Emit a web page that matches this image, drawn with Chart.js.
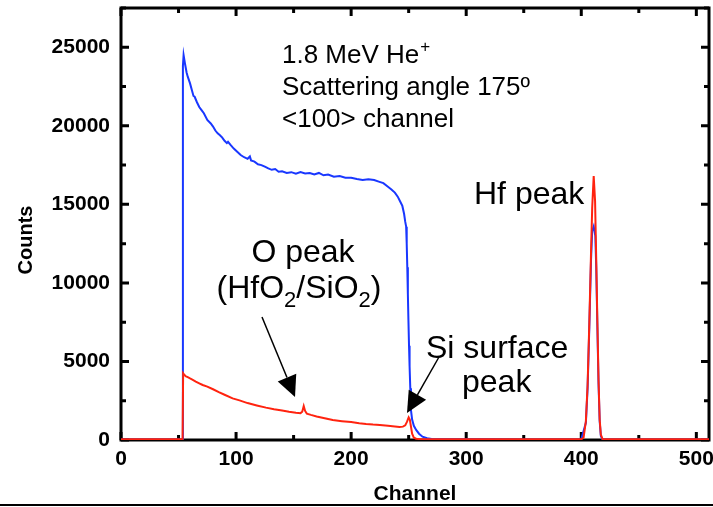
<!DOCTYPE html>
<html>
<head>
<meta charset="utf-8">
<script src="https://cdn.jsdelivr.net/npm/chart.js@4"></script>
<style>
html,body{margin:0;padding:0;background:#fff;}
canvas{display:block;}
</style>
</head>
<body>
<canvas id="c" width="713" height="507"></canvas>
<script>
// ---- data ----
const blueCh = [0,53.2,53.8,54.4,55.5,57,58,60,61.5,63,64,66,68,70,72,75,78,80,82,84,86,88,90,92,93,95,98,101,104,107,110,112,113,116,119,122,125,128,131,134,137,140,144,148,152,156,160,164,168,172,176,180,185,190,195,200,205,210,215,220,224,228,232,235,238,240.5,242.5,244.5,246,247,247.8,248.3,248.8,249.3,249.8,250.3,250.8,251.4,252,253,254.5,256.5,259,262,266,270,280,300,350,400,404,405.5,407,408.5,409.5,410.8,412.2,413,414,415,416,417,418.5,450,511];
const blueCounts = [30,30,23800,24500,24000,23400,23130,22700,22300,21900,21850,21500,21200,21000,20800,20370,20150,19950,19700,19520,19400,19250,19050,18900,18980,18800,18550,18350,18140,18000,17900,18050,17800,17720,17550,17500,17400,17290,17200,17250,17080,17100,17000,17050,16950,17050,16970,17000,16900,17000,16850,16900,16760,16800,16700,16700,16620,16550,16600,16550,16450,16350,16120,15950,15750,15490,15200,14900,14400,13900,13580,12500,11000,9300,7600,6000,4700,3300,1900,1300,900,640,400,210,110,60,45,40,35,40,1100,3300,7200,11500,13300,13600,13000,11000,7200,3600,1200,250,30,30,30];
const redCh = [0,53.5,54,55,56.5,58,60,62,65,68,71,75,80,85,90,97,103,110,118,126,133,140,146,152,156,157.5,158.8,160,161.5,165,170,177,184,192,200,207,213,219,225,232,238,242,245,247,248.5,250,251,252,253,254.5,256.5,260,300,400,402,404,405.5,407,408.5,409.5,410.8,412,413,414,415,416,417,418.5,450,511];
const redCounts = [50,50,4250,4150,4050,4000,3920,3850,3720,3610,3500,3400,3230,3050,2880,2650,2520,2350,2200,2060,1960,1880,1800,1740,1710,1800,2160,1850,1680,1600,1500,1380,1270,1200,1140,1070,1020,980,950,900,860,830,850,930,1150,1440,1300,850,400,150,80,55,50,50,150,1200,3500,7500,12000,14800,16800,15200,11500,7500,3800,1300,350,60,50,50];
const xMin = 0, xMax = 511, xStep = 50, xLabelStep = 100;
const yMin = 0, yMax = 27500, yStep = 2500, yLabelStep = 5000;
const xTitle = 'Channel';
const yTitle = 'Counts';
const infoLines = ['1.8 MeV He', 'Scattering angle 175º', '<100> channel'];

const toXY = (xs, ys) => xs.map((x, i) => ({x: x, y: ys[i]}));
const FONT = '"Liberation Sans", Arial, Helvetica, sans-serif';

function arrow(ctx, x1, y1, x2, y2, hl, hw) {
  const dx = x2 - x1, dy = y2 - y1, L = Math.hypot(dx, dy);
  const ux = dx / L, uy = dy / L;
  const bx = x2 - ux * hl, by = y2 - uy * hl;
  ctx.beginPath();
  ctx.moveTo(x1, y1); ctx.lineTo(bx, by); ctx.stroke();
  ctx.beginPath();
  ctx.moveTo(x2, y2);
  ctx.lineTo(bx - uy * hw, by + ux * hw);
  ctx.lineTo(bx + uy * hw, by - ux * hw);
  ctx.closePath(); ctx.fill();
}

const framePlugin = {
  id: 'frame',
  beforeDatasetsDraw(chart) {
    const {ctx, chartArea: a, scales} = chart;
    ctx.save();
    ctx.strokeStyle = '#000'; ctx.fillStyle = '#000';
    ctx.lineWidth = 3;
    ctx.strokeRect(a.left, a.top, a.right - a.left, a.bottom - a.top);
    scales.x.ticks.forEach(t => {
      const px = scales.x.getPixelForValue(t.value);
      const len = (t.value % xLabelStep === 0) ? 8 : 5;
      ctx.beginPath();
      ctx.moveTo(px, a.bottom); ctx.lineTo(px, a.bottom - len);
      ctx.moveTo(px, a.top); ctx.lineTo(px, a.top + len);
      ctx.stroke();
    });
    scales.y.ticks.forEach(t => {
      const py = scales.y.getPixelForValue(t.value);
      const len = (t.value % yLabelStep === 0) ? 8 : 5;
      ctx.beginPath();
      ctx.moveTo(a.left, py); ctx.lineTo(a.left + len, py);
      ctx.moveTo(a.right, py); ctx.lineTo(a.right - len, py);
      ctx.stroke();
    });
    ctx.restore();
  },
  afterDraw(chart) {
    const {ctx} = chart;
    ctx.save();
    ctx.fillStyle = '#000'; ctx.strokeStyle = '#000';
    // axis titles
    ctx.font = 'bold 21px ' + FONT;
    ctx.textAlign = 'center'; ctx.textBaseline = 'middle';
    ctx.fillText(xTitle, 415, 494);
    ctx.save();
    ctx.translate(26, 240); ctx.rotate(-Math.PI / 2);
    ctx.font = 'bold 20px ' + FONT;
    ctx.fillText(yTitle, 0, 0);
    ctx.restore();
    // bottom rule
    ctx.lineWidth = 2;
    ctx.beginPath(); ctx.moveTo(0, 505); ctx.lineTo(713, 505); ctx.stroke();
    // info text
    ctx.textAlign = 'left'; ctx.textBaseline = 'alphabetic';
    ctx.font = '26px ' + FONT;
    ctx.fillText(infoLines[0], 282, 63);
    const w0 = ctx.measureText(infoLines[0]).width;
    ctx.fillText(infoLines[1], 282, 95);
    ctx.fillText(infoLines[2], 282, 127);
    ctx.font = '17px ' + FONT;
    ctx.fillText('+', 282 + w0 + 1, 52);
    // peak labels
    const big = '32px ' + FONT, sub = '22px ' + FONT;
    ctx.font = big;
    ctx.fillText('Hf peak', 474, 204);
    ctx.textAlign = 'center';
    ctx.fillText('O peak', 303, 262);
    ctx.textAlign = 'left';
    const parts = [['(HfO', 0], ['2', 1], ['/SiO', 0], ['2', 1], [')', 0]];
    let tot = 0;
    parts.forEach(p => { ctx.font = p[1] ? sub : big; tot += ctx.measureText(p[0]).width; });
    let x = 299 - tot / 2;
    parts.forEach(p => {
      ctx.font = p[1] ? sub : big;
      ctx.fillText(p[0], x, p[1] ? 307 : 298);
      x += ctx.measureText(p[0]).width;
    });
    ctx.font = big;
    ctx.fillText('Si surface', 426, 358);
    ctx.fillText('peak', 462, 392);
    // arrows
    ctx.lineWidth = 1.5;
    arrow(ctx, 262, 317, 295, 397, 21, 10);
    arrow(ctx, 439, 357, 407, 413, 21, 10);
    ctx.restore();
  }
};

new Chart(document.getElementById('c'), {
  type: 'line',
  data: {
    datasets: [
      {data: toXY(redCh, redCounts), borderColor: 'rgb(255,35,15)', borderWidth: 2, pointRadius: 0, tension: 0, fill: false},
      {data: toXY(blueCh, blueCounts), borderColor: 'rgb(25,55,255)', borderWidth: 2, pointRadius: 0, tension: 0, fill: false}
    ]
  },
  options: {
    responsive: false,
    animation: false,
    devicePixelRatio: 1,
    layout: {padding: {left: 0, right: 4, top: 8, bottom: 0}},
    plugins: {legend: {display: false}, tooltip: {enabled: false}},
    scales: {
      x: {
        type: 'linear', min: xMin, max: xMax,
        grid: {display: false, drawTicks: false}, border: {display: false},
        ticks: {stepSize: xStep, includeBounds: false, autoSkip: false, maxRotation: 0, padding: 7, color: '#000',
          font: {family: FONT, size: 21, weight: 'bold'},
          callback: v => (v % xLabelStep === 0 ? String(v) : '')},
        afterFit(s) { s.height = 67; s.paddingLeft = 0; s.paddingRight = 0; }
      },
      y: {
        type: 'linear', min: yMin, max: yMax,
        grid: {display: false, drawTicks: false}, border: {display: false},
        ticks: {stepSize: yStep, includeBounds: false, autoSkip: false, padding: 11, color: '#000',
          font: {family: FONT, size: 21, weight: 'bold'},
          callback: v => (v % yLabelStep === 0 ? String(v) : '')},
        afterFit(s) { s.width = 121; s.paddingTop = 0; s.paddingBottom = 0; }
      }
    }
  },
  plugins: [framePlugin]
});
</script>
</body>
</html>
